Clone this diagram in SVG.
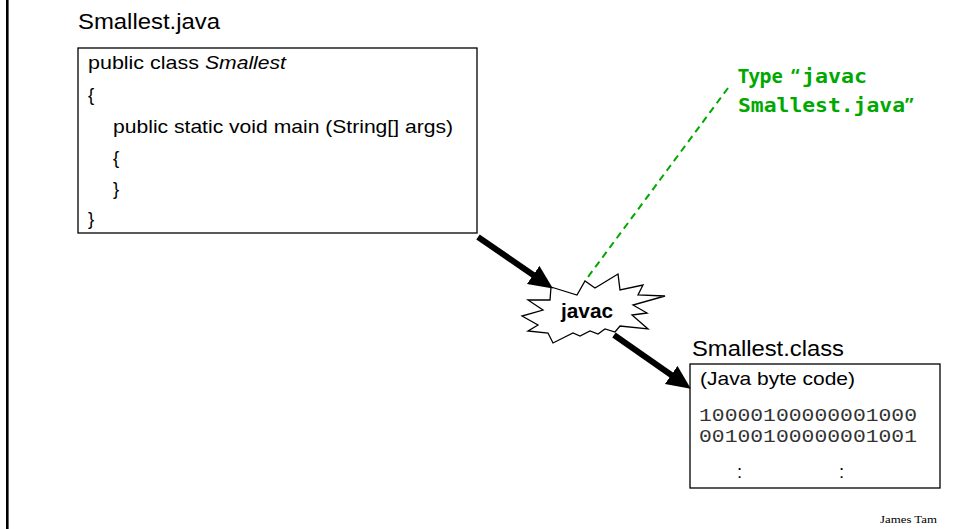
<svg xmlns="http://www.w3.org/2000/svg" width="954" height="529" viewBox="0 0 954 529">
<style>
.sans{font-family:"Liberation Sans",Arial,sans-serif;fill:#000}
.title{font-size:21.5px}
.code{font-size:18.5px}
.mono{font-family:"Liberation Mono","Courier New",monospace;font-size:17.5px;fill:#333}
.box{fill:#fff;stroke:#000;stroke-width:1.3}
.green{fill:#00a800;font-weight:bold;font-size:19px}
.gsans{font-family:"Noto Sans","Open Sans",sans-serif}
.gmono{font-family:"DejaVu Sans Mono","Liberation Mono",monospace}
.arrow{stroke:#000;stroke-width:6;fill:none;marker-end:url(#head)}
</style>
<defs>
<marker id="head" markerUnits="userSpaceOnUse" markerWidth="26" markerHeight="24" refX="1" refY="11" orient="auto">
<path d="M0,0 L24,11 L0,22 z" fill="#000"/>
</marker>
</defs>
<rect width="954" height="529" fill="#fff"/>
<line x1="7.3" y1="0" x2="7.3" y2="529" stroke="#000" stroke-width="2.6"/>

<g id="source">
<text class="sans title" x="78" y="29" textLength="142" lengthAdjust="spacingAndGlyphs">Smallest.java</text>
<rect class="box" x="78" y="48" width="399" height="185"/>
<text class="sans code" x="88" y="69" textLength="111" lengthAdjust="spacingAndGlyphs">public class</text>
<text class="sans code" x="205" y="69" font-style="italic" textLength="81" lengthAdjust="spacingAndGlyphs">Smallest</text>
<text class="sans code" x="88" y="101">{</text>
<text class="sans code" x="113" y="133" textLength="340" lengthAdjust="spacingAndGlyphs">public static void main (String[] args)</text>
<text class="sans code" x="113" y="164">{</text>
<text class="sans code" x="113" y="195">}</text>
<text class="sans code" x="88" y="225">}</text>
</g>

<g id="javac">
<polygon points="551,287 577,295 585,281 595,288 618,274 620,290 643,285 638,295 665,296 633,305 647,313 632,315 648,329 620,326 615,332 605,329 598,334 590,331 580,336 573,333 553,343 548,333 528,331 538,325 522,316 543,310 528,300 550,300" fill="#fff" stroke="#000" stroke-width="1.3" stroke-linejoin="miter"/>
<text class="sans" x="561" y="318" font-size="20" font-weight="bold" textLength="52" lengthAdjust="spacingAndGlyphs">javac</text>
</g>

<g id="classfile">
<text class="sans title" x="692" y="356" textLength="152" lengthAdjust="spacingAndGlyphs">Smallest.class</text>
<rect class="box" x="690" y="364" width="250" height="124"/>
<text class="sans code" x="700" y="385" textLength="155" lengthAdjust="spacingAndGlyphs">(Java byte code)</text>
<text class="mono" x="699" y="421" textLength="218" lengthAdjust="spacingAndGlyphs">10000100000001000</text>
<text class="mono" x="699" y="442" textLength="218" lengthAdjust="spacingAndGlyphs">00100100000001001</text>
<text class="sans code" x="737" y="478">:</text>
<text class="sans code" x="839" y="478">:</text>
</g>

<g id="note">
<text class="green gsans" x="738" y="83" textLength="45" lengthAdjust="spacingAndGlyphs">Type</text>
<text class="green gsans" x="791" y="83" font-size="21">“</text>
<text class="green gmono" x="802" y="83" textLength="65" lengthAdjust="spacingAndGlyphs">javac</text>
<text class="green gmono" x="738" y="112" textLength="167" lengthAdjust="spacingAndGlyphs">Smallest.java</text>
<text class="green gsans" x="905" y="112" font-size="21">”</text>
</g>

<g id="connectors">
<line class="arrow" x1="478" y1="237" x2="534" y2="275.5"/>
<line class="arrow" x1="614" y1="335" x2="672" y2="375.5"/>
<line x1="728" y1="88" x2="585" y2="281" stroke="#00a800" stroke-width="2" stroke-dasharray="7 5"/>
</g>

<text x="880" y="523" font-family="Liberation Serif,'Times New Roman',serif" font-size="11" textLength="57" lengthAdjust="spacingAndGlyphs">James Tam</text>
</svg>
